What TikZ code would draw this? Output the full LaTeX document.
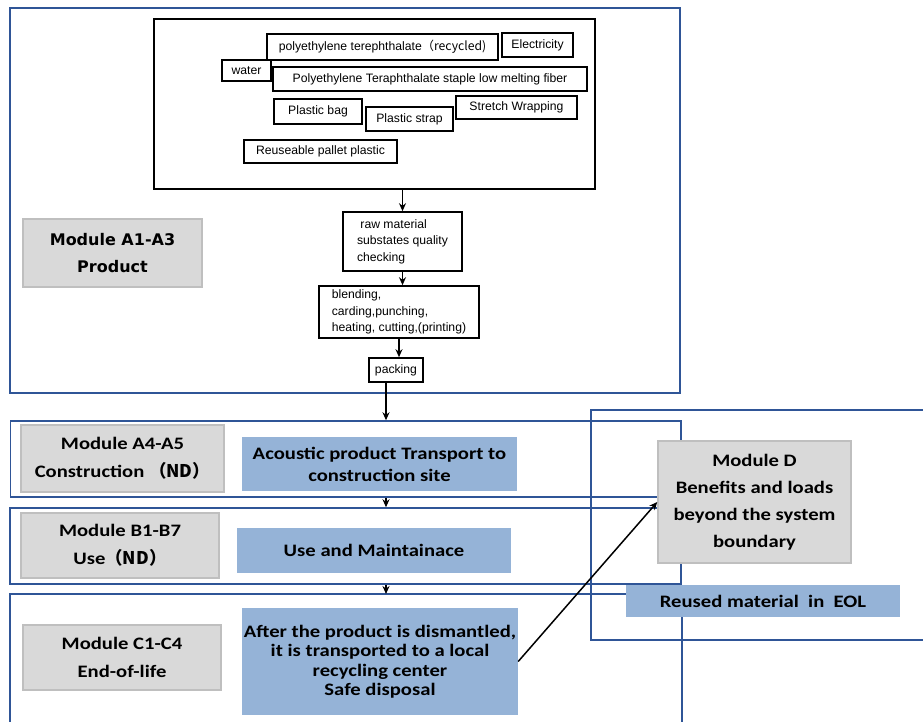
\documentclass[tikz,border=0pt]{standalone}
\usepackage{fontspec}
\setmainfont{Liberation Sans}
\newfontfamily\calb[FakeStretch=1.18]{Carlito}
\newfontfamily\dvb{DejaVu Sans}
\newfontfamily\cjk{Noto Sans CJK SC}
\usetikzlibrary{arrows.meta}
\definecolor{dblue}{HTML}{2F5597}
\definecolor{lblue}{HTML}{95B3D7}
\definecolor{gfill}{HTML}{D9D9D9}
\definecolor{gline}{HTML}{BFBFBF}
\tikzset{
  sbox/.style={draw=black, line width=1.6pt, inner sep=0pt, font=\fontsize{12.2}{16.5}\selectfont},
  frame/.style={draw=dblue, line width=1.5pt, inner sep=0pt},
  gbox/.style={draw=gline, fill=gfill, line width=1.5pt, inner sep=0pt, align=center,
    font=\calb\bfseries\fontsize{17.5}{28}\selectfont},
  bbox/.style={fill=lblue, draw=none, inner sep=0pt, align=center,
    font=\calb\bfseries\fontsize{17.5}{22}\selectfont},
  arr/.style={-{Stealth[length=8pt,width=7pt]}, line width=1.5pt},
}
\begin{document}
\begin{tikzpicture}[x=1pt,y=-1pt]
\useasboundingbox (0,0) rectangle (923,722);
\coordinate (m) at (386,0);
% frames
\node[frame, minimum width=670, minimum height=385] (a13) at (345,200.5) {};
\node[frame, minimum width=670.5, minimum height=76] (a45) at (345.75,459) {};
\node[frame, minimum width=671, minimum height=76] (bf) at (345.5,546) {};
\coordinate (c1) at (10,730);
\coordinate (c2) at (10,594);
\coordinate (c3) at (682,594);
\coordinate (c4) at (682,730);
\draw[frame] (c1) -- (c2) -- (c3) -- (c4);
\coordinate (d1) at (930,410);
\coordinate (d2) at (591,410);
\coordinate (d3) at (591,640);
\coordinate (d4) at (930,640);
\draw[frame] (d1) -- (d2) -- (d3) -- (d4);
% inner product box
\node[draw=black, line width=1.6pt, minimum width=441, minimum height=170] (inner) at (374.5,104) {};
\node[sbox, minimum width=231, minimum height=26] (pet) at (382.5,47) {polyethylene terephthalate\cjk{（}recycled)};
\node[sbox, minimum width=71, minimum height=24] (elec) at (537.5,45) {Electricity};
\node[sbox, minimum width=49, minimum height=21] (water) at (246.5,70.5) {water};
\node[sbox, minimum width=314, minimum height=24] (fiber) at (430,79) {Polyethylene Teraphthalate staple low melting fiber};
\node[sbox, minimum width=88, minimum height=25] (bag) at (318,111.5) {Plastic bag};
\node[sbox, minimum width=87, minimum height=24] (strap) at (409.5,119) {Plastic strap};
\node[sbox, minimum width=121, minimum height=23] (wrap) at (516.5,107.5) {Stretch Wrapping};
\node[sbox, minimum width=153, minimum height=23] (pallet) at (320.5,151.5) {Reuseable pallet plastic};
% process
\node[sbox, minimum width=119, minimum height=59, align=left] (raw) at (402.5,241.5) {\ raw material\\substates quality\\checking};
\node[sbox, minimum width=160, minimum height=52, align=left] (blend) at (399,312) {blending,\\carding,punching,\\heating, cutting,(printing)};
\node[sbox, minimum width=54, minimum height=24] (pack) at (396,370) {packing};
% module labels
\node[gbox, minimum width=179, minimum height=68, font=\dvb\bfseries\fontsize{16}{27}\selectfont] (ga13) at (112.5,253) {Module A1-A3\\Product};
\node[gbox, minimum width=203, minimum height=67] (ga45) at (122.5,458.5) {Module A4-A5\\Construction \cjk{（}ND\cjk{）}};
\node[bbox, minimum width=275, minimum height=54] (trans) at (379.5,464) {Acoustic product Transport to\\construction site};
\node[gbox, minimum width=198, minimum height=65] (gb) at (120,545.5) {Module B1-B7\\Use\cjk{（}ND\cjk{）}};
\node[bbox, minimum width=274, minimum height=45] (use) at (374,550.5) {Use and Maintainace};
\node[bbox, minimum width=274, minimum height=32] (reuse) at (763,601) {Reused material~ in~ EOL};
\node[gbox, minimum width=198, minimum height=65] (gc) at (122,657.5) {Module C1-C4\\End-of-life};
\node[bbox, minimum width=276, minimum height=107, font=\calb\bfseries\fontsize{17.5}{19.5}\selectfont] (after) at (380,661.5) {After the product is dismantled,\\it is transported to a local\\recycling center\\Safe disposal};
\node[gbox, minimum width=193, minimum height=122, font=\calb\bfseries\fontsize{17.5}{27}\selectfont] (gd) at (754.5,502) {Module D\\Benefits and loads\\beyond the system\\boundary};
% arrows
\draw[arr] (inner.south -| raw.north) -- (raw.north);
\draw[arr] (raw.south) -- (blend.north -| raw.south);
\draw[arr] (blend.south) -- (pack.north -| blend.south);
\draw[arr] (pack.south -| m) -- (a45.north -| m);
\draw[arr] (a45.south -| m) -- (bf.north -| m);
\draw[arr] (bf.south -| m) -- (c2 -| m);
\draw[arr] (after.east) -- (gd.west);
\end{tikzpicture}
\end{document}
